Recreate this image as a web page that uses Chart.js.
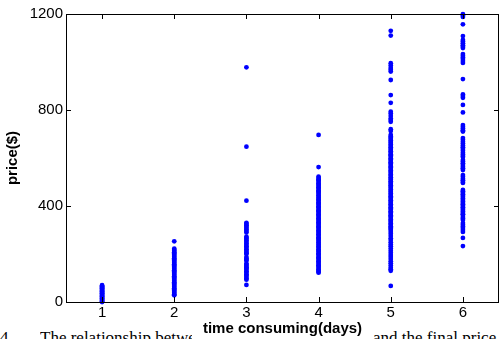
<!DOCTYPE html>
<html>
<head>
<meta charset="utf-8">
<script src="https://cdn.jsdelivr.net/npm/chart.js@4.4.1/dist/chart.umd.min.js"></script>
<style>
    body { margin: 0; background: #fff; }
    #wrap { position: relative; width: 500px; height: 339px; overflow: hidden; }
    #chart { position: absolute; left: 0; top: 0; z-index: 1; }
    .caption {
        position: absolute; top: 329px; z-index: 0;
        font-family: 'Liberation Serif', 'Times New Roman', serif;
        font-size: 17px; line-height: 17px; color: #000;
        white-space: nowrap; overflow: hidden;
    }
</style>
</head>
<body>
<div id="wrap">
    <div class="caption" style="left: 0px;">4.</div>
    <div class="caption" style="left: 40px; width: 152px;">The relationship between time</div>
    <div class="caption" style="left: 373px;">and the final price.</div>
    <canvas id="chart" width="500" height="339"></canvas>
</div>
<script>
// Axis ticks
const xTickValues = [1, 2, 3, 4, 5, 6];
const yTickValues = [0, 400, 800, 1200];

// Time consuming (days) for each group
const days = [1, 2, 3, 4, 5, 6];

// Prices ($), one list per day
const priceDay1 = [70, 66, 63, 60, 57, 54, 51, 48, 45, 42, 39, 36, 33, 30, 27, 24, 21, 18, 15, 12, 9, 6, 3, 0];
const priceDay2 = [253, 222, 217, 212, 207, 202, 197, 192, 187, 182, 177, 172, 167, 162, 157, 152, 147, 142,
    137, 132, 127, 122, 117, 112, 107, 102, 97, 92, 87, 82, 77, 72, 67, 62, 57, 52, 47, 42, 37, 32, 28];
const priceDay3 = [978, 647, 422, 330, 325, 320, 314, 308, 302, 296, 290, 272, 267, 262, 256, 250, 244, 238,
    232, 226, 220, 214, 208, 203, 200, 187, 181, 176, 172, 160, 155, 150, 145, 140, 134, 128, 122, 116,
    110, 104, 98, 93, 71];
const priceDay4 = [696, 562, 522, 517, 511, 506, 500, 494, 489, 483, 478, 472, 466, 461, 455, 450, 444, 438,
    433, 427, 422, 416, 410, 405, 399, 394, 388, 382, 377, 371, 366, 360, 354, 349, 343, 338, 332, 326,
    321, 315, 310, 304, 298, 293, 287, 282, 276, 270, 265, 259, 254, 248, 242, 237, 231, 226, 220, 214,
    209, 203, 198, 192, 186, 181, 175, 170, 164, 158, 153, 147, 142, 136, 130, 126, 122];
const priceDay5 = [1130, 1110, 995, 985, 975, 968, 960, 925, 862, 830, 793, 785, 775, 765, 758, 751, 720, 712,
    696, 690, 684, 679, 673, 667, 662, 656, 650, 645, 639, 633, 628, 622, 616, 611, 605, 599, 594, 588,
    582, 577, 571, 565, 560, 554, 548, 543, 537, 531, 526, 520, 514, 509, 503, 497, 492, 486, 480, 475,
    469, 463, 458, 452, 446, 441, 435, 429, 424, 418, 412, 407, 401, 395, 390, 384, 378, 373, 367, 361,
    356, 350, 344, 339, 333, 327, 322, 316, 310, 305, 300, 292, 284, 275, 266, 258, 249, 240, 232, 223,
    214, 205, 196, 188, 179, 170, 161, 152, 143, 136, 130, 67];
const priceDay6 = [1199, 1194, 1188, 1157, 1108, 1092, 1085, 1078, 1070, 1064, 1058, 1033, 1026, 1019, 1012,
    1004, 996, 929, 865, 858, 851, 821, 790, 737, 730, 723, 716, 710, 683, 676, 668, 660, 652, 645, 638,
    630, 622, 615, 608, 604, 592, 585, 578, 571, 564, 557, 550, 529, 522, 514, 507, 500, 496, 467, 461,
    455, 449, 443, 437, 431, 425, 419, 413, 407, 401, 395, 389, 383, 377, 371, 366, 362, 354, 348, 342,
    329, 322, 315, 308, 300, 292, 267, 233];
const pricesByDay = [priceDay1, priceDay2, priceDay3, priceDay4, priceDay5, priceDay6];

const fontFamily = "'Liberation Sans', Arial, Helvetica, sans-serif";

// Build scatter points from the lists
const points = [];
days.forEach(function(day, i) {
    pricesByDay[i].forEach(function(price) {
        points.push({ x: day, y: price });
    });
});

// Box round the plot with inward tick marks (MATLAB style)
const framePlugin = {
    id: 'frame',
    afterDraw(chart) {
        const ctx = chart.ctx;
        const area = chart.chartArea;
        const xs = chart.scales.x;
        const ys = chart.scales.y;
        const tickLen = 5;
        ctx.save();
        ctx.strokeStyle = '#000';
        ctx.lineWidth = 1;
        ctx.beginPath();
        xTickValues.forEach(function(v) {
            const px = Math.round(xs.getPixelForValue(v)) + 0.5;
            ctx.moveTo(px, area.bottom);
            ctx.lineTo(px, area.bottom - tickLen);
            ctx.moveTo(px, area.top);
            ctx.lineTo(px, area.top + tickLen);
        });
        yTickValues.forEach(function(v) {
            const py = Math.round(ys.getPixelForValue(v)) + 0.5;
            ctx.moveTo(area.left, py);
            ctx.lineTo(area.left + tickLen, py);
            ctx.moveTo(area.right, py);
            ctx.lineTo(area.right - tickLen, py);
        });
        ctx.stroke();
        ctx.strokeRect(Math.round(area.left) + 0.5, Math.round(area.top) + 0.5,
            Math.round(area.right - area.left) - 1, Math.round(area.bottom - area.top));
        ctx.restore();
    }
};

new Chart(document.getElementById('chart').getContext('2d'), {
    type: 'scatter',
    data: {
        datasets: [{
            data: points,
            backgroundColor: '#0000ff',
            borderWidth: 0,
            pointRadius: 2.4,
            clip: false
        }]
    },
    options: {
        responsive: false,
        animation: false,
        layout: { autoPadding: false, padding: { top: 14, right: 1, left: 0, bottom: 0 } },
        plugins: {
            legend: { display: false },
            tooltip: { enabled: false }
        },
        scales: {
            x: {
                type: 'linear',
                min: 0.5,
                max: 6.5,
                afterBuildTicks: function(scale) {
                    scale.ticks = xTickValues.map(function(v) { return { value: v }; });
                },
                afterFit: function(scale) {
                    scale.height = 37;
                    scale.paddingLeft = 0;
                    scale.paddingRight = 0;
                },
                grid: { display: false, drawTicks: false },
                border: { display: false },
                ticks: {
                    padding: 2,
                    color: '#000',
                    maxRotation: 0,
                    autoSkip: false,
                    callback: function(value) { return String(value); },
                    font: { family: fontFamily, size: 15 }
                },
                title: {
                    display: true,
                    text: 'time consuming(days)',
                    color: '#000',
                    padding: { top: 0, bottom: 1 },
                    font: { family: fontFamily, size: 15, weight: 'bold' }
                }
            },
            y: {
                type: 'linear',
                min: 0,
                max: 1200,
                afterBuildTicks: function(scale) {
                    scale.ticks = yTickValues.map(function(v) { return { value: v }; });
                },
                afterFit: function(scale) { scale.width = 66; },
                grid: { display: false, drawTicks: false },
                border: { display: false },
                ticks: {
                    padding: 3,
                    color: '#000',
                    callback: function(value) { return String(value); },
                    font: { family: fontFamily, size: 15 }
                },
                title: {
                    display: true,
                    text: 'price($)',
                    color: '#000',
                    padding: { top: 4, bottom: 0 },
                    font: { family: fontFamily, size: 15, weight: 'bold' }
                }
            }
        }
    },
    plugins: [framePlugin]
});
</script>
</body>
</html>
